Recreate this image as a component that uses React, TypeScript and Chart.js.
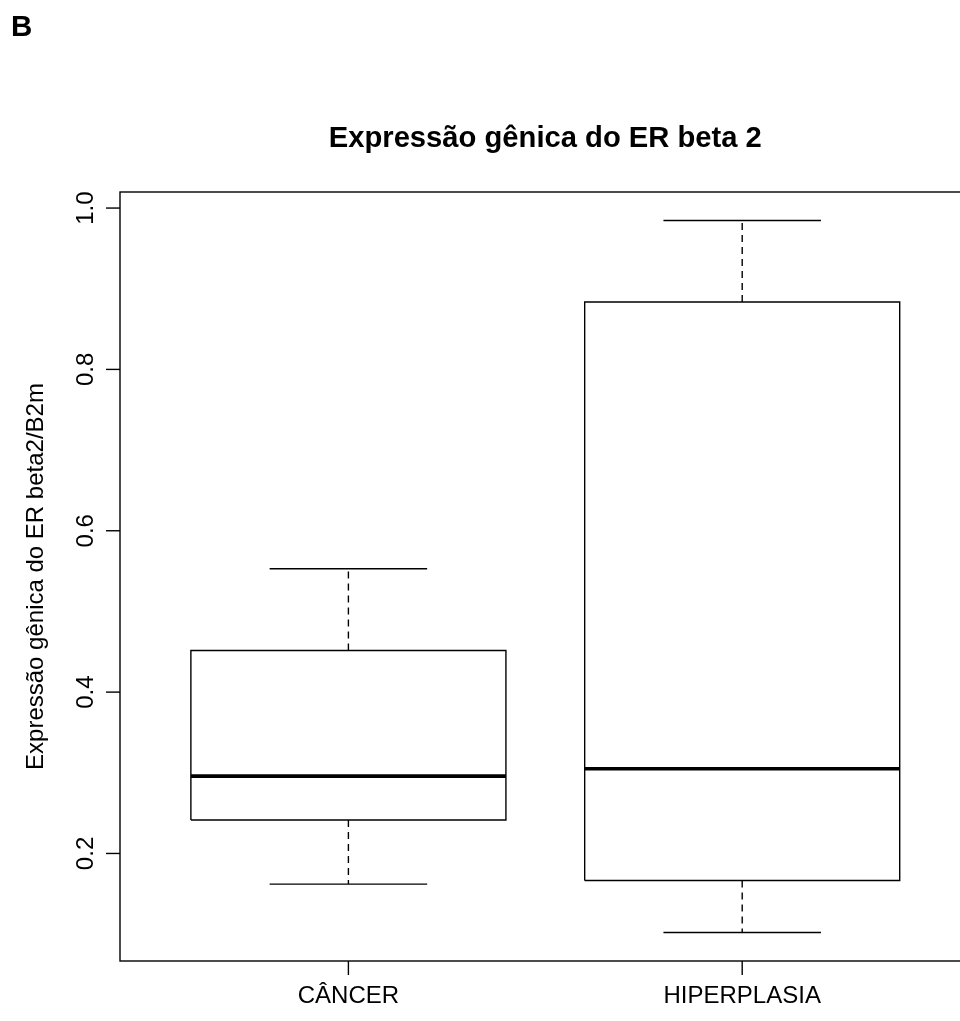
import React, { useEffect, useRef } from "react";
import { Chart, registerables } from "chart.js";

Chart.register(...registerables);

const categories = ["CÂNCER", "HIPERPLASIA"];
const whiskerLow = [0.162, 0.102];
const q1 = [0.2414, 0.1665];
const median = [0.2959, 0.305];
const q3 = [0.4516, 0.8835];
const whiskerHigh = [0.5529, 0.9846];
const yTicks = [0.2, 0.4, 0.6, 0.8, 1.0];
const title = "Expressão gênica do ER beta 2";
const yTitle = "Expressão gênica do ER beta2/B2m";
const panelLabel = "B";

const FONT = '"Liberation Sans", Arial, Helvetica, sans-serif';
const BOX_HALF = 0.4;
const CAP_HALF = 0.2;

export default function App() {
  const ref = useRef<HTMLCanvasElement | null>(null);

  useEffect(() => {
    if (!ref.current) return;
    const lo = Math.min(...whiskerLow);
    const hi = Math.max(...whiskerHigh);
    const pad = (hi - lo) * 0.04;
    const xPad = categories.length * 0.04;

    const datasets: any[] = [];
    const base = { showLine: true, pointRadius: 0, borderColor: "#000", fill: false, tension: 0 };
    categories.forEach((_, i) => {
      const x = i + 1;
      datasets.push({
        ...base,
        borderWidth: 1.4,
        data: [
          { x: x - BOX_HALF, y: q1[i] },
          { x: x + BOX_HALF, y: q1[i] },
          { x: x + BOX_HALF, y: q3[i] },
          { x: x - BOX_HALF, y: q3[i] },
          { x: x - BOX_HALF, y: q1[i] },
        ],
      });
      datasets.push({
        ...base,
        borderWidth: 1.4,
        borderDash: [7, 5],
        data: [
          { x, y: q3[i] },
          { x, y: whiskerHigh[i] },
        ],
      });
      datasets.push({
        ...base,
        borderWidth: 1.4,
        borderDash: [7, 5],
        data: [
          { x, y: q1[i] },
          { x, y: whiskerLow[i] },
        ],
      });
      datasets.push({
        ...base,
        borderWidth: 1.4,
        data: [
          { x: x - CAP_HALF, y: whiskerHigh[i] },
          { x: x + CAP_HALF, y: whiskerHigh[i] },
        ],
      });
      datasets.push({
        ...base,
        borderWidth: 1.4,
        data: [
          { x: x - CAP_HALF, y: whiskerLow[i] },
          { x: x + CAP_HALF, y: whiskerLow[i] },
        ],
      });
      datasets.push({
        ...base,
        borderWidth: 3.6,
        borderCapStyle: "butt",
        data: [
          { x: x - BOX_HALF, y: median[i] },
          { x: x + BOX_HALF, y: median[i] },
        ],
      });
    });

    const decor = {
      id: "rDecor",
      afterDraw(chart: any) {
        const ctx = chart.ctx;
        const a = chart.chartArea;
        const xs = chart.scales.x;
        const ys = chart.scales.y;
        ctx.save();
        ctx.strokeStyle = "#000";
        ctx.fillStyle = "#000";
        ctx.lineWidth = 1.4;
        // frame
        ctx.strokeRect(a.left, a.top, a.right - a.left, a.bottom - a.top);
        // y ticks
        ctx.font = `24px ${FONT}`;
        yTicks.forEach((v) => {
          const py = ys.getPixelForValue(v);
          ctx.beginPath();
          ctx.moveTo(a.left, py);
          ctx.lineTo(a.left - 14, py);
          ctx.stroke();
          ctx.save();
          ctx.translate(92.5, py);
          ctx.rotate(-Math.PI / 2);
          ctx.textAlign = "center";
          ctx.textBaseline = "alphabetic";
          ctx.fillText(v.toFixed(1), 0, 0);
          ctx.restore();
        });
        // x ticks
        categories.forEach((c, i) => {
          const px = xs.getPixelForValue(i + 1);
          ctx.beginPath();
          ctx.moveTo(px, a.bottom);
          ctx.lineTo(px, a.bottom + 14);
          ctx.stroke();
          ctx.textAlign = "center";
          ctx.textBaseline = "alphabetic";
          ctx.fillText(c, px, 1002.7);
        });
        // y title
        ctx.save();
        ctx.translate(43, (a.top + a.bottom) / 2);
        ctx.rotate(-Math.PI / 2);
        ctx.textAlign = "center";
        ctx.fillText(yTitle, 0, 0);
        ctx.restore();
        // main title
        ctx.font = `bold 29.2px ${FONT}`;
        ctx.textAlign = "center";
        ctx.fillText(title, (a.left + a.right) / 2, 146.5);
        // panel label
        ctx.font = `bold 29.5px ${FONT}`;
        ctx.textAlign = "left";
        ctx.fillText(panelLabel, 11, 36);
        ctx.restore();
      },
    };

    const chart = new Chart(ref.current, {
      type: "scatter",
      data: { datasets },
      options: {
        animation: false,
        responsive: false,
        devicePixelRatio: 1,
        layout: { padding: { left: 120, right: 9.4, top: 192, bottom: 60 } },
        plugins: { legend: { display: false }, tooltip: { enabled: false } },
        events: [],
        scales: {
          x: { type: "linear", display: false, min: 0.5 - xPad, max: categories.length + 0.5 + xPad },
          y: { type: "linear", display: false, min: lo - pad, max: hi + pad },
        },
      },
      plugins: [decor],
    });
    return () => chart.destroy();
  }, []);

  return (
    <div
      style={{
        position: "absolute",
        left: 0,
        top: 0,
        width: 960,
        height: 1021,
        overflow: "hidden",
        background: "#fff",
      }}
    >
      <canvas ref={ref} width={980} height={1021} style={{ display: "block" }} />
    </div>
  );
}
